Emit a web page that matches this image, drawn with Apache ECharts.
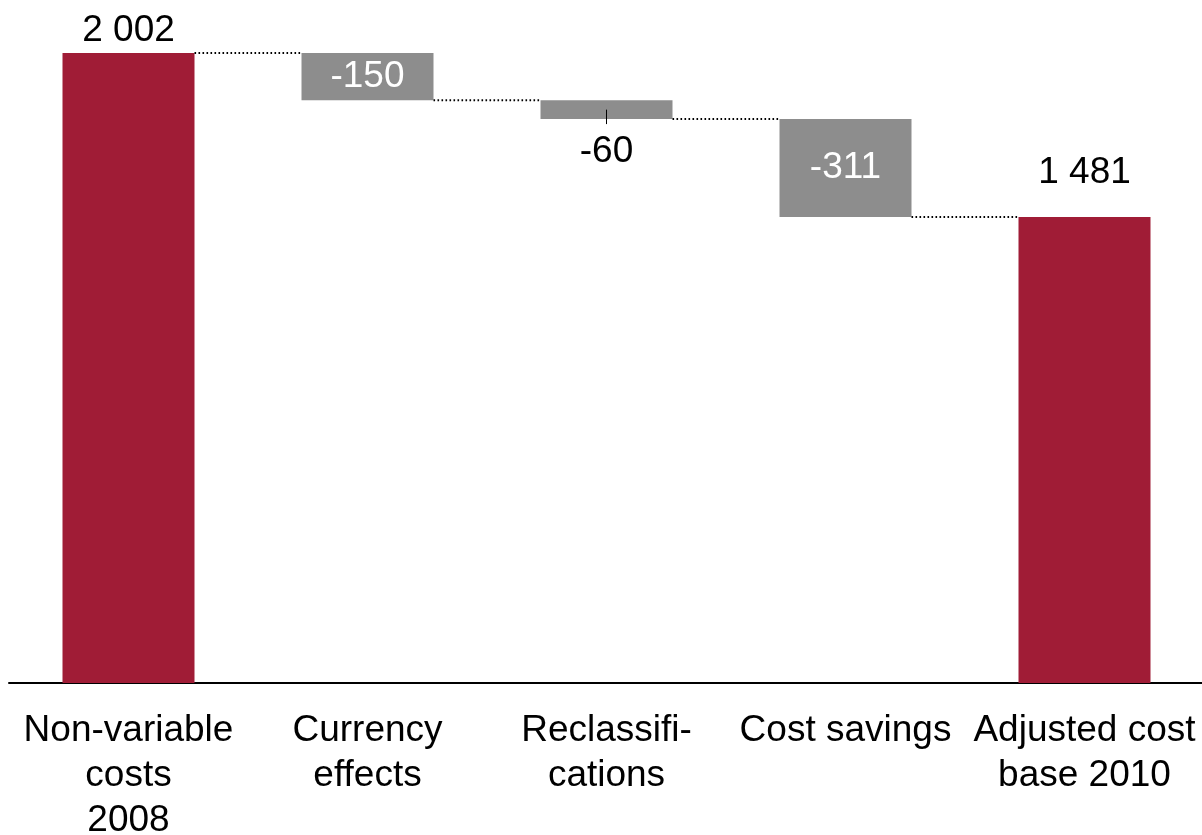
<!DOCTYPE html>
<html>
<head>
<meta charset="utf-8">
<script src="https://cdn.jsdelivr.net/npm/echarts@6/dist/echarts.min.js"></script>
<style>
html,body{margin:0;padding:0;background:#fff;}
#chart{width:1202px;height:835px;}
</style>
</head>
<body>
<div id="chart"></div>
<script>
// ---- data ----
const categories = ['Non-variable\ncosts\n2008', 'Currency\neffects', 'Reclassifi-\ncations', 'Cost savings', 'Adjusted cost\nbase 2010'];
const startValue = 2002;
const changes = [-150, -60, -311];
const endValue = 1481;

// ---- derived waterfall structure ----
const RED = '#A01C36', GRAY = '#8D8D8D';
const FONT = '"Liberation Sans", Arial, sans-serif';
const fmt = v => {
  const s = String(Math.abs(v)).replace(/\B(?=(\d{3})+(?!\d))/g, ' ');
  return (v < 0 ? '-' : '') + s;
};
const base = [0], heights = [startValue], labels = [fmt(startValue)], kinds = ['total'];
const levels = [startValue];
let run = startValue;
changes.forEach(c => {
  const next = run + c;
  base.push(Math.min(run, next));
  heights.push(Math.abs(c));
  labels.push(fmt(c));
  kinds.push('delta');
  run = next;
  levels.push(run);
});
base.push(0); heights.push(endValue); labels.push(fmt(endValue)); kinds.push('total');

const BAR_W = 132;
const visData = heights.map((h, i) => {
  const isTotal = kinds[i] === 'total';
  const small = !isTotal && h < 100;
  let label;
  if (isTotal) {
    label = {show: true, position: 'top', distance: i === 0 ? 4 : 26, color: '#000'};
  } else if (small) {
    label = {show: true, position: 'bottom', distance: 14, color: '#000'};
  } else {
    label = {show: true, position: 'inside', color: '#fff'};
  }
  label.formatter = labels[i];
  return {value: h, itemStyle: {color: isTotal ? RED : GRAY}, label};
});

// connectors: from bar i to bar i+1 at running level after bar i
const connectors = levels.map((lv, i) => [i, lv]);
// tick lines for small deltas with outside label
const ticks = [];
heights.forEach((h, i) => {
  if (kinds[i] === 'delta' && h < 100) ticks.push([i, base[i] + h / 2, base[i]]);
});

const chart = echarts.init(document.getElementById('chart'));
chart.setOption({
  animation: false,
  backgroundColor: '#fff',
  textStyle: {fontFamily: FONT},
  grid: {left: 9, width: 1195, top: 53, bottom: 152, containLabel: false, outerBoundsMode: 'none'},
  xAxis: {
    type: 'category',
    data: categories,
    axisLine: {lineStyle: {color: '#000', width: 2}},
    axisTick: {show: false},
    axisLabel: {interval: 0, fontSize: 37, lineHeight: 45, margin: 25, color: '#000', fontFamily: FONT}
  },
  yAxis: {type: 'value', show: false, min: 0, max: v => v.max, splitLine: {show: false}},
  series: [
    {type: 'bar', stack: 'w', data: base, barWidth: BAR_W, itemStyle: {color: 'transparent'}, silent: true},
    {type: 'bar', stack: 'w', data: visData, barWidth: BAR_W,
      label: {fontSize: 37, fontFamily: FONT}},
    {type: 'custom', data: connectors, silent: true, z: 5,
      renderItem: (params, api) => {
        const p = api.coord([api.value(0), api.value(1)]);
        const bw = api.size([1, 0])[0];
        return {type: 'line', shape: {x1: p[0] + BAR_W / 2, y1: p[1], x2: p[0] + bw - BAR_W / 2, y2: p[1]},
          style: {stroke: '#000', lineWidth: 2, lineDash: [1.6, 2.4]}};
      }},
    {type: 'custom', data: ticks, silent: true, z: 6,
      renderItem: (params, api) => {
        const a = api.coord([api.value(0), api.value(1)]);
        const b = api.coord([api.value(0), api.value(2)]);
        return {type: 'line', shape: {x1: a[0], y1: a[1], x2: b[0], y2: b[1] + 5},
          style: {stroke: '#000', lineWidth: 1}};
      }}
  ]
});
</script>
</body>
</html>
